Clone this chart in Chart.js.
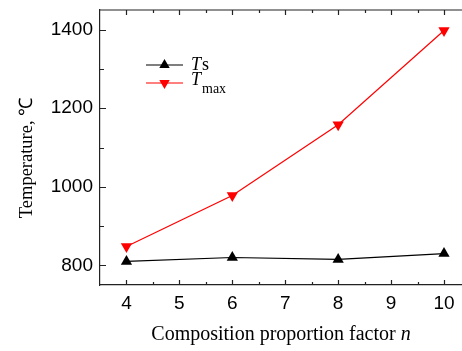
<!DOCTYPE html>
<html>
<head>
<meta charset="utf-8">
<script src="https://cdn.jsdelivr.net/npm/chart.js@4"></script>
<style>
  html, body { margin: 0; padding: 0; background: #fff; overflow: hidden; }
</style>
</head>
<body>
<canvas id="chart" width="462" height="351"></canvas>
<script>
// composition proportion factor n
const nValues = [4, 6, 8, 10];
// temperatures, degC
const tsValues = [810, 820, 815, 830];
const tmaxValues = [848, 978, 1158, 1398];
const xTickLabels = [4, 5, 6, 7, 8, 9, 10];
const yTickLabels = [800, 1000, 1200, 1400];

const serif = '"Liberation Serif", "Times New Roman", serif';
const sans = '"Liberation Sans", Arial, sans-serif';

// major + minor tick values from the label lists
const xTickValues = [];
xTickLabels.forEach((v, i) => {
  xTickValues.push(v);
  if (i < xTickLabels.length - 1) xTickValues.push((v + xTickLabels[i + 1]) / 2);
});
const yTickValues = [];
yTickLabels.forEach((v, i) => {
  yTickValues.push(v);
  if (i < yTickLabels.length - 1) yTickValues.push((v + yTickLabels[i + 1]) / 2);
});

// inward ticks, top frame, axis titles and the legend
const decor = {
  id: 'decor',
  afterDraw(chart) {
    const { ctx, chartArea: a, scales: { x, y } } = chart;
    ctx.save();
    ctx.strokeStyle = '#222';
    ctx.lineWidth = 1.2;
    ctx.beginPath();
    ctx.moveTo(a.left, a.top);
    ctx.lineTo(a.right, a.top);
    x.ticks.forEach(t => {
      const v = t.value;
      const px = Math.round(x.getPixelForValue(v)) + 0.5;
      const len = xTickLabels.includes(v) ? 5 : 3;
      ctx.moveTo(px, a.bottom); ctx.lineTo(px, a.bottom - len);
      ctx.moveTo(px, a.top); ctx.lineTo(px, a.top + len);
    });
    y.ticks.forEach(t => {
      const v = t.value;
      const py = Math.round(y.getPixelForValue(v)) + 0.5;
      const len = yTickLabels.includes(v) ? 6 : 4;
      ctx.moveTo(a.left, py); ctx.lineTo(a.left + len, py);
    });
    ctx.stroke();

    // axis titles
    ctx.fillStyle = '#000';
    ctx.textBaseline = 'alphabetic';
    const main = 'Composition proportion factor ';
    ctx.font = '20px ' + serif;
    const w1 = ctx.measureText(main).width;
    ctx.font = 'italic 20px ' + serif;
    const w2 = ctx.measureText('n').width;
    const sx = 281 - (w1 + w2) / 2;
    ctx.font = '20px ' + serif;
    ctx.textAlign = 'left';
    ctx.fillText(main, sx, 340);
    ctx.font = 'italic 20px ' + serif;
    ctx.fillText('n', sx + w1, 340);

    ctx.save();
    ctx.translate(32, 158);
    ctx.rotate(-Math.PI / 2);
    ctx.font = '18.5px ' + serif;
    ctx.textAlign = 'center';
    ctx.fillText('Temperature, \u2103', 0, 0);
    ctx.restore();

    // legend
    const rows = [
      { ds: chart.data.datasets[0], y: 65, base: 70, sub: 's', subSize: 18, subDrop: 0 },
      { ds: chart.data.datasets[1], y: 83, base: 85, sub: 'max', subSize: 14, subDrop: 8 }
    ];
    rows.forEach(r => {
      ctx.strokeStyle = r.ds.borderColor;
      ctx.lineWidth = 1.2;
      ctx.beginPath();
      ctx.moveTo(146, r.y); ctx.lineTo(183, r.y);
      ctx.stroke();
      ctx.fillStyle = r.ds.pointBackgroundColor;
      Chart.helpers.drawPoint(ctx, {
        pointStyle: 'triangle', radius: 6, rotation: r.ds.pointRotation, borderWidth: 0
      }, 164.5, r.y);
      ctx.fillStyle = '#000';
      ctx.textAlign = 'left';
      ctx.font = 'italic 18px ' + serif;
      ctx.fillText('T', 191, r.base);
      const tw = ctx.measureText('T').width;
      ctx.font = r.subSize + 'px ' + serif;
      ctx.fillText(r.sub, 191 + tw + 1, r.base + r.subDrop);
    });
    ctx.restore();
  }
};

new Chart(document.getElementById('chart'), {
  type: 'line',
  data: {
    datasets: [
      {
        label: 'Ts',
        data: nValues.map((n, i) => ({ x: n, y: tsValues[i] })),
        borderColor: '#000',
        backgroundColor: '#000',
        pointBackgroundColor: '#000',
        pointBorderColor: '#000',
        borderWidth: 1.2,
        pointStyle: 'triangle',
        pointRadius: 6.5,
        pointBorderWidth: 0,
        pointRotation: 0
      },
      {
        label: 'Tmax',
        data: nValues.map((n, i) => ({ x: n, y: tmaxValues[i] })),
        borderColor: '#ff0000',
        backgroundColor: '#ff0000',
        pointBackgroundColor: '#ff0000',
        pointBorderColor: '#ff0000',
        borderWidth: 1.2,
        pointStyle: 'triangle',
        pointRadius: 6.5,
        pointBorderWidth: 0,
        pointRotation: 180
      }
    ]
  },
  options: {
    responsive: false,
    animation: false,
    layout: { autoPadding: false, padding: { top: 10, left: 0, right: 0, bottom: 0 } },
    plugins: {
      legend: { display: false },
      tooltip: { enabled: false }
    },
    scales: {
      x: {
        type: 'linear',
        min: 3.5,
        max: 10.34,
        afterBuildTicks: s => { s.ticks = xTickValues.map(v => ({ value: v })); },
        afterFit: s => { s.height = 66; s.paddingLeft = 0; s.paddingRight = 0; },
        grid: { display: false, drawTicks: false },
        border: { display: true, color: '#222', width: 1.2 },
        ticks: {
          autoSkip: false,
          maxRotation: 0,
          padding: 7,
          color: '#000',
          font: { family: sans, size: 19 },
          callback: v => xTickLabels.includes(v) ? String(v) : ''
        }
      },
      y: {
        min: 750,
        max: 1450,
        afterBuildTicks: s => { s.ticks = yTickValues.map(v => ({ value: v })); },
        afterFit: s => { s.width = 100; s.paddingTop = 0; s.paddingBottom = 0; },
        grid: { display: false, drawTicks: false },
        border: { display: true, color: '#222', width: 1.2 },
        ticks: {
          autoSkip: false,
          padding: 7,
          color: '#000',
          font: { family: sans, size: 19 },
          callback: v => yTickLabels.includes(v) ? String(v) : ''
        }
      }
    }
  },
  plugins: [decor]
});
</script>
</body>
</html>
